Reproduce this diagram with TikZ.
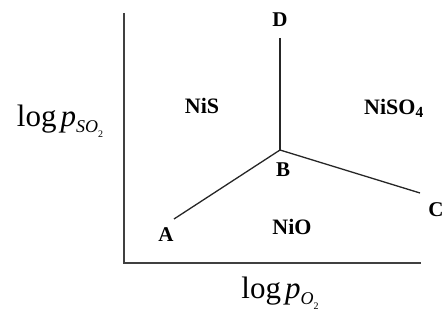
\documentclass[tikz,border=0pt]{standalone}
\usepackage{fontspec}
\setmainfont{Liberation Serif}
\newcommand{\axsub}[1]{\raisebox{-0.2em}{\fontsize{18}{18}\selectfont\textit{#1}\raisebox{-0.25em}{\fontsize{10}{10}\selectfont 2}}}
\begin{document}
\begin{tikzpicture}[x=1pt,y=-1pt,
  axis/.style={line width=1.6pt,draw=black!75},
  bound/.style={line width=1.3pt,draw=black!85},
  pt/.style={font=\fontsize{21}{23}\selectfont\bfseries,inner sep=0pt},
  phase/.style={font=\fontsize{22}{24}\selectfont\bfseries,inner sep=0pt},
  axlab/.style={font=\fontsize{31}{33}\selectfont,inner sep=0pt}]
\useasboundingbox (0,0) rectangle (444,320);
\coordinate (top) at (124,13);
\coordinate (O) at (124,263);
\coordinate (right) at (421,263);
\draw[axis] (top) -- (O) -- (right);
\coordinate (Bp) at (280,150);
\coordinate (Dp) at (280,38);
\coordinate (Ap) at (174,219);
\coordinate (Cp) at (420,193);
\draw[bound] (Dp) -- (Bp);
\draw[bound] (Ap) -- (Bp) -- (Cp);
\node[pt] (D) at (280,20) {D};
\node[pt] (B) at (283,170) {B};
\node[pt] (A) at (166,235) {A};
\node[pt] (C) at (436,210) {C};
\node[phase] (NiS) at (202,106) {NiS};
\node[phase] (NiSO) at (394,108) {NiSO\textsubscript{4}};
\node[phase] (NiO) at (292,227) {NiO};
\node[axlab] (ylab) at (60,121) {log\hspace{4pt}\textit{p}\axsub{SO}};
\node[axlab] (xlab) at (280,293) {log\hspace{4pt}\textit{p}\axsub{O}};
\end{tikzpicture}
\end{document}
